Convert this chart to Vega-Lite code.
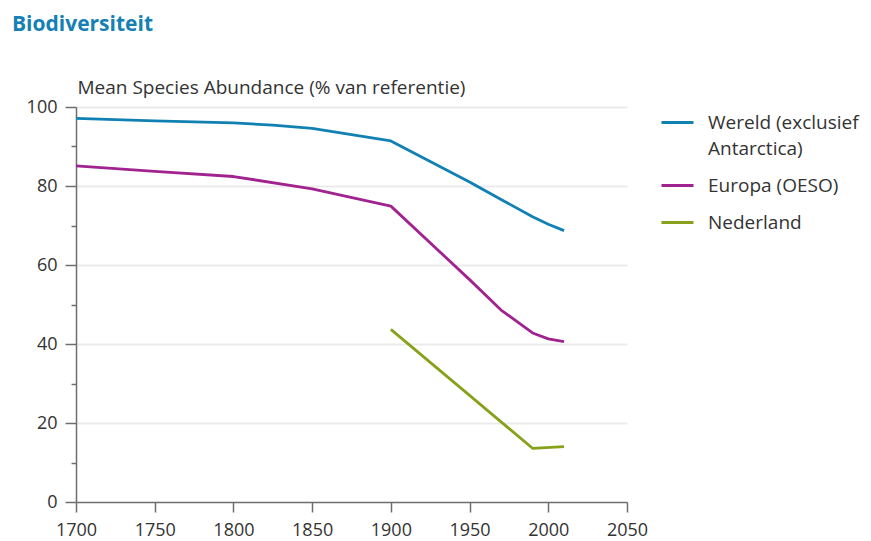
{
  "$schema": "https://vega.github.io/schema/vega-lite/v6.json",
  "width": 551,
  "height": 395,
  "autosize": "none",
  "padding": {"left": 76, "top": 107, "right": 244, "bottom": 39},
  "background": "white",
  "title": {
    "text": "Biodiversiteit",
    "anchor": "start",
    "frame": "group",
    "dx": -64,
    "offset": 43,
    "font": "Open Sans",
    "fontSize": 21,
    "fontWeight": "bold",
    "color": "#1580b6"
  },
  "config": {
    "view": {"stroke": null},
    "font": "Open Sans",
    "style": {"guide-label": {"lineHeight": 26}},
    "axis": {
      "domainColor": "#6e6e6e",
      "domainWidth": 1.5,
      "tickColor": "#6e6e6e",
      "tickWidth": 1.5,
      "labelFont": "Open Sans",
      "labelFontSize": 18,
      "labelLineHeight": 18,
      "labelColor": "#333333",
      "titleFont": "Open Sans",
      "titleFontSize": 19,
      "titleFontWeight": "normal",
      "titleColor": "#333333"
    }
  },
  "data": {
    "values": [
      {"year": 1700, "mas": 97.1, "regio": "Wereld (exclusief Antarctica)"},
      {"year": 1750, "mas": 96.5, "regio": "Wereld (exclusief Antarctica)"},
      {"year": 1800, "mas": 96.0, "regio": "Wereld (exclusief Antarctica)"},
      {"year": 1825, "mas": 95.4, "regio": "Wereld (exclusief Antarctica)"},
      {"year": 1850, "mas": 94.6, "regio": "Wereld (exclusief Antarctica)"},
      {"year": 1900, "mas": 91.4, "regio": "Wereld (exclusief Antarctica)"},
      {"year": 1950, "mas": 81.0, "regio": "Wereld (exclusief Antarctica)"},
      {"year": 1970, "mas": 76.6, "regio": "Wereld (exclusief Antarctica)"},
      {"year": 1990, "mas": 72.2, "regio": "Wereld (exclusief Antarctica)"},
      {"year": 2000, "mas": 70.3, "regio": "Wereld (exclusief Antarctica)"},
      {"year": 2010, "mas": 68.7, "regio": "Wereld (exclusief Antarctica)"},
      {"year": 1700, "mas": 85.1, "regio": "Europa (OESO)"},
      {"year": 1750, "mas": 83.7, "regio": "Europa (OESO)"},
      {"year": 1800, "mas": 82.4, "regio": "Europa (OESO)"},
      {"year": 1850, "mas": 79.3, "regio": "Europa (OESO)"},
      {"year": 1900, "mas": 74.9, "regio": "Europa (OESO)"},
      {"year": 1950, "mas": 56.3, "regio": "Europa (OESO)"},
      {"year": 1970, "mas": 48.6, "regio": "Europa (OESO)"},
      {"year": 1990, "mas": 42.8, "regio": "Europa (OESO)"},
      {"year": 2000, "mas": 41.3, "regio": "Europa (OESO)"},
      {"year": 2010, "mas": 40.6, "regio": "Europa (OESO)"},
      {"year": 1900, "mas": 43.7, "regio": "Nederland"},
      {"year": 1950, "mas": 27.0, "regio": "Nederland"},
      {"year": 1970, "mas": 20.3, "regio": "Nederland"},
      {"year": 1990, "mas": 13.6, "regio": "Nederland"},
      {"year": 2010, "mas": 14.0, "regio": "Nederland"}
    ]
  },
  "mark": {"type": "line", "strokeWidth": 2.8, "strokeJoin": "round", "strokeCap": "butt"},
  "encoding": {
    "x": {
      "field": "year",
      "type": "quantitative",
      "scale": {"domain": [1700, 2050], "nice": false, "zero": false},
      "axis": {
        "title": null,
        "values": [1700, 1750, 1800, 1850, 1900, 1950, 2000, 2050],
        "format": "d",
        "grid": false,
        "tickSize": 10,
        "labelPadding": 9,
        "labelFlush": false
      }
    },
    "y": {
      "field": "mas",
      "type": "quantitative",
      "scale": {"domain": [0, 100], "nice": false},
      "axis": {
        "title": "Mean Species Abundance (% van referentie)",
        "titleAngle": 0,
        "titleAlign": "left",
        "titleBaseline": "alphabetic",
        "titleX": 1,
        "titleY": -14,
        "values": [0, 10, 20, 30, 40, 50, 60, 70, 80, 90, 100],
        "labelExpr": "datum.value % 20 == 0 ? datum.label : ''",
        "tickSize": {"condition": {"test": "datum.value % 20 == 0", "value": 11}, "value": 5},
        "labelPadding": 8,
        "grid": true,
        "gridWidth": 2,
        "gridColor": {"condition": {"test": "datum.value % 20 == 0 && datum.value > 0", "value": "#ebebeb"}, "value": "transparent"}
      }
    },
    "color": {
      "field": "regio",
      "type": "nominal",
      "scale": {
        "domain": ["Wereld (exclusief Antarctica)", "Europa (OESO)", "Nederland"],
        "range": ["#1180b3", "#a0238f", "#87a11b"]
      },
      "legend": {
        "title": null,
        "orient": "none",
        "legendX": 584,
        "legendY": -2,
        "symbolType": "stroke",
        "symbolSize": 1024,
        "symbolStrokeWidth": 3,
        "labelFont": "Open Sans",
        "labelFontSize": 19,
        "labelColor": "#333333",
        "labelOffset": 13,
        "labelLimit": 300,
        "labelBaseline": "middle",
        "rowPadding": 9,
        "labelExpr": "datum.label == 'Wereld (exclusief Antarctica)' ? ['Wereld (exclusief', 'Antarctica)'] : datum.label"
      }
    }
  }
}
